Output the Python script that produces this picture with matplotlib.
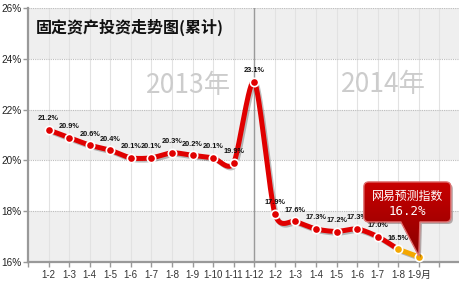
import numpy as np
import matplotlib
matplotlib.use("Agg")
import matplotlib.pyplot as plt
import matplotlib.patheffects as pe
from matplotlib.path import Path
from matplotlib.patches import PathPatch

# data
months_2013 = ["1-2", "1-3", "1-4", "1-5", "1-6", "1-7", "1-8", "1-9", "1-10", "1-11", "1-12"]
months_2014 = ["1-2", "1-3", "1-4", "1-5", "1-6", "1-7", "1-8", "1-9月"]
values_2013 = [21.2, 20.9, 20.6, 20.4, 20.1, 20.1, 20.3, 20.2, 20.1, 19.9, 23.1]
values_2014 = [17.9, 17.6, 17.3, 17.2, 17.3, 17.0, 16.5, 16.2]
forecast_label = "网易预测指数"
y_ticks = [16, 18, 20, 22, 24, 26]

labels = months_2013 + months_2014
values = values_2013 + values_2014
xs = np.arange(1, len(labels) + 1)

RED = "#e00000"
ORANGE = "#f4a700"
CJK = ["Noto Sans CJK SC", "DejaVu Sans"]


def spline(x, y, f=0.25, n=30):
    # smooth curve through the points, tangent = slope between neighbours
    x = np.asarray(x, float)
    y = np.asarray(y, float)
    m = len(x)
    lc = np.column_stack([x, y]).copy()
    rc = lc.copy()
    for i in range(1, m - 1):
        k = (y[i + 1] - y[i - 1]) / (x[i + 1] - x[i - 1])
        lc[i] = (x[i] - f, y[i] - k * f)
        rc[i] = (x[i] + f, y[i] + k * f)
    px, py = [x[0]], [y[0]]
    t = np.linspace(0, 1, n)[1:]
    for i in range(1, m):
        p0 = np.array([x[i - 1], y[i - 1]])
        p1, p2 = rc[i - 1], lc[i]
        p3 = np.array([x[i], y[i]])
        pts = ((1 - t) ** 3)[:, None] * p0 + (3 * (1 - t) ** 2 * t)[:, None] * p1 \
            + (3 * (1 - t) * t ** 2)[:, None] * p2 + (t ** 3)[:, None] * p3
        px.extend(pts[:, 0])
        py.extend(pts[:, 1])
    return np.array(px), np.array(py)


fig = plt.figure(figsize=(4.6, 2.84), dpi=100)
ax = fig.add_axes([28 / 460, 22 / 284, 432 / 460, 254 / 284])
ax.set_xlim(0, 21)
ax.set_ylim(16, 26)

# alternating bands
for lo in range(16, 26, 2):
    ax.axhspan(lo, lo + 2, color="#efefef" if (lo // 2) % 2 == 0 else "white", zorder=0, lw=0)
for xv in range(1, 22):
    ax.axvline(xv, color="#e2e2e2", lw=0.8, zorder=0.5)
for yv in y_ticks[1:]:
    ax.axhline(yv, color="#bdbdbd", lw=0.8, ls=(0, (1, 1)), zorder=0.6)
ax.axvline(len(months_2013), color="#9a9a9a", lw=1.0, zorder=0.7)

ax.text(7.8, 22.95, "2013年", fontsize=19, color="#cccccc",
        family=CJK, ha="center", va="center", zorder=0.8)
ax.text(17.3, 23.0, "2014年", fontsize=19, color="#cccccc",
        family=CJK, ha="center", va="center", zorder=0.8)

ax.text(0.017, 0.925, "固定资产投资走势图(累计)", transform=ax.transAxes, fontsize=11.5,
        fontweight="bold", family=CJK, color="#111111", va="center", ha="left")

# main red series up to 1-8 of 2014, forecast step in orange
shadow = [pe.SimpleLineShadow(offset=(1.2, -1.2), shadow_color="black", alpha=0.25), pe.Normal()]
sx, sy = spline(xs[:-1], values[:-1])
ax.plot(sx, sy, color=RED, lw=3.6, solid_capstyle="round", zorder=3, path_effects=shadow)
ax.plot(xs[-2:], values[-2:], color=ORANGE, lw=3.6, solid_capstyle="round", zorder=3,
        path_effects=shadow)
ax.plot(xs[:-2], values[:-2], "o", ms=6, mfc=RED, mec="white", mew=1.2, zorder=4)
ax.plot(xs[-2:], values[-2:], "o", ms=6, mfc=ORANGE, mec="white", mew=1.2, zorder=4)

for xv, v in zip(xs[:-1], values[:-1]):
    ax.annotate(f"{v:.1f}%", (xv, v), xytext=(0, 5.5), textcoords="offset points",
                ha="center", va="bottom", fontsize=5.3, fontweight="bold",
                family="Liberation Sans", color="#111111", zorder=3.5)

# axes styling
ax.set_xticks(np.arange(0, 22))
ax.set_xticklabels([""] + labels + ["", ""], family=["Liberation Sans", "Noto Sans CJK SC"],
                   fontsize=7, color="#333333")
ax.set_yticks(y_ticks)
ax.set_yticklabels([f"{t}%" for t in y_ticks], family="Liberation Sans", fontsize=7.2,
                   color="#222222")
ax.tick_params(axis="x", length=3.5, width=1, color="#999999", pad=2.5)
ax.tick_params(axis="y", length=3.5, width=1, color="#999999", pad=1)
for side in ("top", "right"):
    ax.spines[side].set_visible(False)
for side in ("left", "bottom"):
    ax.spines[side].set_color("#999999")
    ax.spines[side].set_linewidth(1.6)

# forecast callout anchored to the last point, drawn on a pixel overlay
ov = fig.add_axes([0, 0, 1, 1], facecolor="none")
ov.set_xlim(0, 460)
ov.set_ylim(0, 284)
ov.axis("off")
fig.canvas.draw()
tx, ty = ax.transData.transform((xs[-1], values[-1]))
ty += 1
L, R = tx - 55, tx + 32
T, B = ty + 74, ty + 34
r = 5
verts = [(L + r, B), (tx - 18, B), (tx, ty), (tx + 1, B), (R - r, B), (R, B), (R, B + r),
         (R, T - r), (R, T), (R - r, T), (L + r, T), (L, T), (L, T - r), (L, B + r), (L, B),
         (L + r, B)]
codes = [Path.MOVETO, Path.LINETO, Path.LINETO, Path.LINETO, Path.LINETO, Path.CURVE3,
         Path.CURVE3, Path.LINETO, Path.CURVE3, Path.CURVE3, Path.LINETO, Path.CURVE3,
         Path.CURVE3, Path.LINETO, Path.CURVE3, Path.CURVE3]
shape = Path(verts, codes)
back = PathPatch(shape, facecolor="#900000", edgecolor="none", zorder=5,
                 path_effects=[pe.SimplePatchShadow(offset=(1.5, -1.5), alpha=0.3), pe.Normal()])
ov.add_patch(back)
grad = np.linspace(1, 0, 64)[:, None]
from matplotlib.colors import LinearSegmentedColormap
cm = LinearSegmentedColormap.from_list("box", ["#8a0000", "#c80000"])
im = ov.imshow(grad, cmap=cm, extent=[L, R, ty, T], aspect="auto", zorder=6,
               interpolation="bilinear")
im.set_clip_path(back)
ov.add_patch(PathPatch(shape, facecolor="none", edgecolor="#e07070", lw=1.0, zorder=7))
ov.set_xlim(0, 460)
ov.set_ylim(0, 284)
ov.text((L + R) / 2, T - 15, forecast_label, color="white", fontsize=8.6,
        family=CJK, ha="center", va="center", zorder=8)
ov.text((L + R) / 2, T - 30, f"{values[-1]:.1f}%", color="white", fontsize=9,
        family="DejaVu Sans Mono", ha="center", va="center", zorder=8)

fig.savefig("out.png", dpi=100)
